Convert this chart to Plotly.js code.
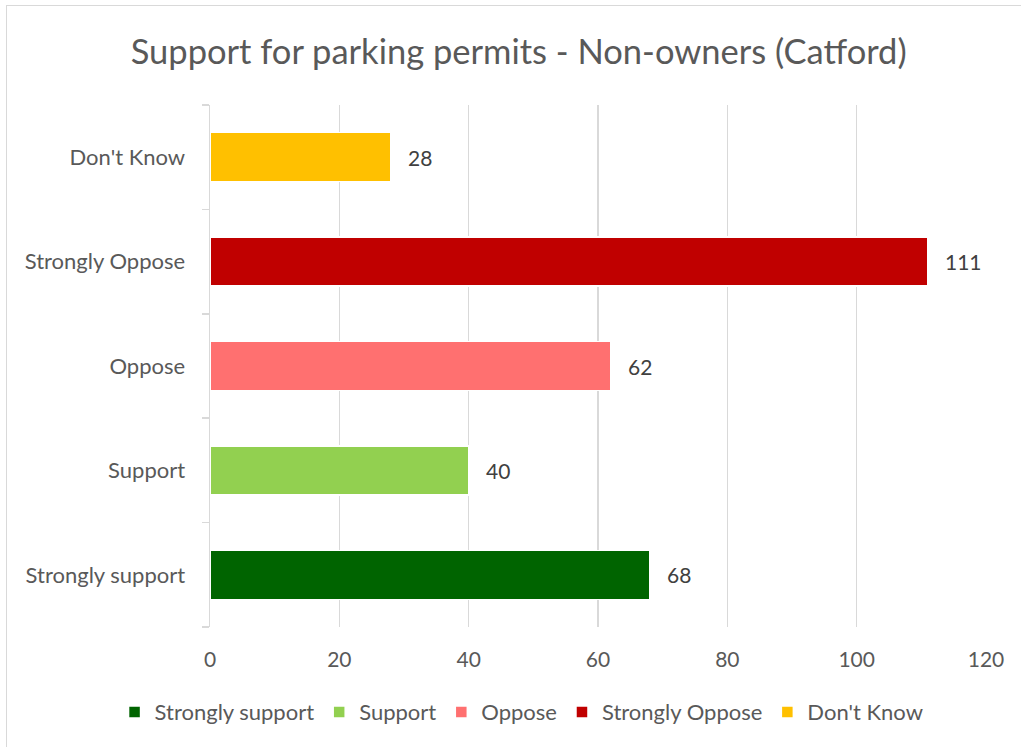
<!DOCTYPE html>
<html>
<head>
<meta charset="utf-8">
<script src="https://cdn.plot.ly/plotly-3.0.1.min.js"></script>
<style>
  html, body { margin: 0; padding: 0; background: #ffffff; }
  #wrap { position: relative; width: 1021px; height: 747px; }
  #chart { width: 1021px; height: 747px; }
  #frame { position: absolute; left: 6px; top: 5px; width: 1100px; height: 800px;
           border-left: 1.5px solid #d9d9d9; border-top: 1.5px solid #d9d9d9; pointer-events: none; }
</style>
</head>
<body>
<div id="wrap">
  <div id="chart"></div>
  <div id="frame"></div>
</div>
<script>
const categories = ["Strongly support", "Support", "Oppose", "Strongly Oppose", "Don't Know"];
const values = [68, 40, 62, 111, 28];
const colors = ["#006400", "#92d050", "#ff7070", "#c00000", "#ffc000"];
const xTicks = [0, 20, 40, 60, 80, 100, 120];

const FONT = "Lato, 'Open Sans', sans-serif";

const traces = categories.map((c, i) => ({
  type: "bar",
  orientation: "h",
  name: c,
  y: [c],
  x: [values[i]],
  marker: { color: colors[i], line: { color: "#ffffff", width: 1.5 } },
  hoverinfo: "x+y"
}));

const annotations = categories.map((c, i) => ({
  x: values[i],
  y: c,
  xref: "x",
  yref: "y",
  text: String(values[i]),
  showarrow: false,
  xanchor: "left",
  yanchor: "middle",
  xshift: 15,
  font: { family: FONT, size: 21, color: "#404040" }
}));

const layout = {
  width: 1021,
  height: 747,
  paper_bgcolor: "#ffffff",
  plot_bgcolor: "#ffffff",
  font: { family: FONT, color: "#595959" },
  title: {
    text: "Support for parking permits - Non-owners (Catford)",
    font: { family: FONT, size: 34.5, color: "#595959" },
    x: 0.508, xanchor: "center", y: 0.93, yanchor: "middle"
  },
  margin: { l: 210, r: 35, t: 105, b: 120, autoexpand: false },
  barmode: "stack",
  bargap: 0.53,
  showlegend: true,
  legend: {
    orientation: "h",
    xref: "paper",
    yref: "paper",
    x: -0.123, xanchor: "left",
    y: -0.163, yanchor: "middle",
    traceorder: "normal",
    font: { family: FONT, size: 22, color: "#595959" },
    itemwidth: 30
  },
  annotations: annotations,
  xaxis: {
    range: [0, 120],
    tickvals: xTicks,
    ticktext: xTicks.map(String),
    showgrid: true,
    gridcolor: "#d9d9d9",
    gridwidth: 1.5,
    zeroline: false,
    showline: false,
    ticks: "",
    tickfont: { family: FONT, size: 21, color: "#595959" },
    ticklabelstandoff: 18,
    automargin: false,
    fixedrange: true
  },
  yaxis: {
    type: "category",
    categoryorder: "array",
    categoryarray: categories,
    showline: true,
    linecolor: "#d9d9d9",
    linewidth: 1.5,
    ticks: "outside",
    tickson: "boundaries",
    ticklen: 7,
    tickcolor: "#d9d9d9",
    tickwidth: 1.5,
    showgrid: false,
    zeroline: false,
    tickfont: { family: FONT, size: 22, color: "#595959" },
    ticklabelstandoff: 19,
    automargin: false,
    fixedrange: true
  }
};

Plotly.newPlot("chart", traces, layout, { displayModeBar: false, staticPlot: true });
</script>
</body>
</html>
